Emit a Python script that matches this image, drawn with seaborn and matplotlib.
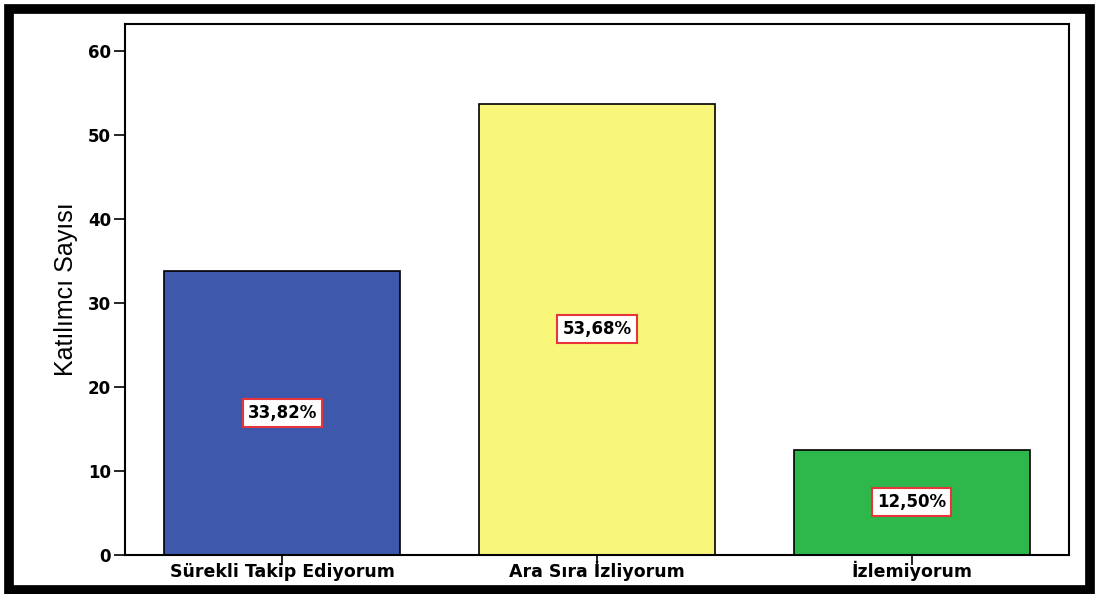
import matplotlib.pyplot as plt
import seaborn as sns
import pandas as pd
from matplotlib.patches import Rectangle

categories = ["Sürekli Takip Ediyorum", "Ara Sıra İzliyorum", "İzlemiyorum"]
values = [33.82, 53.68, 12.50]
labels = ["33,82%", "53,68%", "12,50%"]
colors = ["#3E59AB", "#F9F77A", "#2EB74A"]

df = pd.DataFrame({"cat": categories, "val": values})

sns.set_style("white")
plt.rcParams['font.family'] = ['DejaVu Sans']
plt.rcParams['text.color'] = 'black'
plt.rcParams['axes.labelcolor'] = 'black'
plt.rcParams['xtick.color'] = 'black'
plt.rcParams['ytick.color'] = 'black'

W, H = 1099, 594
fig = plt.figure(figsize=(W / 100, H / 100), dpi=100)
ax = fig.add_axes([125 / W, 1 - 555 / H, (1069 - 125) / W, (555 - 24) / H])

sns.barplot(data=df, x="cat", y="val", hue="cat", palette=colors, legend=False,
            width=0.75, edgecolor="black", linewidth=1.2, saturation=1, ax=ax)

# percent labels in the middle of each bar
for i, (v, lab) in enumerate(zip(values, labels)):
    ax.text(i, v / 2, lab, ha="center", va="center", fontsize=12, fontweight="bold",
            bbox=dict(boxstyle="square,pad=0.3", facecolor="white", edgecolor="#E8353C", linewidth=1.5))

ax.set_xlim(-0.5, 2.5)
ax.set_ylim(0, 63.2)
ax.set_yticks([0, 10, 20, 30, 40, 50, 60])
ax.set_xlabel("")
ax.set_ylabel("Katılımcı Sayısı", fontsize=18, family="Liberation Sans", labelpad=7)
ax.tick_params(axis="y", direction="out", length=8, width=1.2, labelsize=12, pad=2, left=True)
ax.tick_params(axis="x", direction="out", length=7, width=1.2, labelsize=12.5, pad=8.5, bottom=True)
for t in ax.get_yticklabels():
    t.set_fontweight("bold")
for t in ax.get_xticklabels():
    t.set_fontweight("bold")
    t.set_va("baseline")
for s in ax.spines.values():
    s.set_visible(True)
    s.set_linewidth(1.5)
    s.set_color("black")

# outer frame
fig.patches.append(Rectangle((9 / W, 1 - 590 / H), 1081 / W, 581.5 / H, transform=fig.transFigure,
                             facecolor="none", edgecolor="black", linewidth=7, zorder=1))

fig.savefig("out.png", dpi=100)
